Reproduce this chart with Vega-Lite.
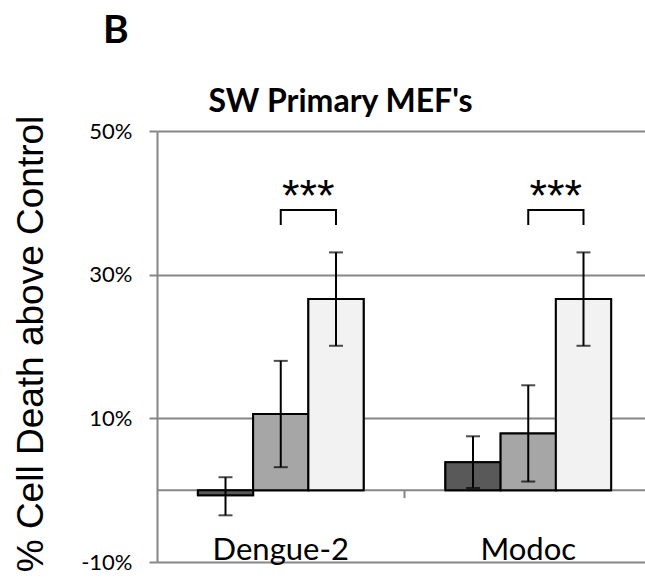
{
  "$schema": "https://vega.github.io/schema/vega-lite/v6.json",
  "autosize": "none",
  "width": 488,
  "height": 431,
  "padding": {"left": 157, "top": 131, "right": 0, "bottom": 16},
  "background": "white",
  "config": {"view": {"stroke": null}},
  "title": {"text": "B", "anchor": "start", "frame": "group", "dx": -54, "font": "Lato", "fontSize": 39, "fontWeight": "bold", "color": "black", "offset": 34},
  "datasets": {
    "bars": [
      {"group": "Dengue-2", "trt": "T1", "value": -0.7, "lo": -3.5, "hi": 1.8},
      {"group": "Dengue-2", "trt": "T2", "value": 10.6, "lo": 3.2, "hi": 18.0},
      {"group": "Dengue-2", "trt": "T3", "value": 26.6, "lo": 20.1, "hi": 33.1},
      {"group": "Modoc", "trt": "T1", "value": 3.9, "lo": 0.3, "hi": 7.5},
      {"group": "Modoc", "trt": "T2", "value": 7.9, "lo": 1.2, "hi": 14.6},
      {"group": "Modoc", "trt": "T3", "value": 26.6, "lo": 20.1, "hi": 33.1}
    ],
    "brackets": [
      {"group": "Dengue-2", "trt": "T2", "y": 36.9, "ord": 1},
      {"group": "Dengue-2", "trt": "T2", "y": 39.0, "ord": 2},
      {"group": "Dengue-2", "trt": "T3", "y": 39.0, "ord": 3},
      {"group": "Dengue-2", "trt": "T3", "y": 36.9, "ord": 4},
      {"group": "Modoc", "trt": "T2", "y": 36.9, "ord": 1},
      {"group": "Modoc", "trt": "T2", "y": 39.0, "ord": 2},
      {"group": "Modoc", "trt": "T3", "y": 39.0, "ord": 3},
      {"group": "Modoc", "trt": "T3", "y": 36.9, "ord": 4}
    ],
    "stars": [
      {"group": "Dengue-2", "label": "***", "y": 40.8},
      {"group": "Modoc", "label": "***", "y": 40.8}
    ],
    "groups": [
      {"group": "Dengue-2", "base": -10},
      {"group": "Modoc", "base": -10}
    ],
    "zero": [{"v": 0}],
    "sep": [{"group": "Modoc", "top": 0, "bot": -1.1}]
  },
  "layer": [
    {
      "data": {"name": "bars"},
      "mark": {"type": "bar", "stroke": "black", "strokeWidth": 2},
      "encoding": {
        "x": {
          "field": "group", "type": "nominal",
          "scale": {"domain": ["Dengue-2", "Modoc"], "range": [0, 495], "paddingInner": 0, "paddingOuter": 0},
          "axis": {"orient": "top", "labels": false, "ticks": false, "domain": false, "grid": false,
                   "title": "SW Primary MEF's", "titleFont": "Lato", "titleFontSize": 32, "titleFontWeight": "bold",
                   "titleColor": "black", "titleX": 183, "titleY": -20, "titleBaseline": "alphabetic", "titleAlign": "center"}
        },
        "xOffset": {"field": "trt", "type": "nominal", "scale": {"domain": ["T1", "T2", "T3"], "paddingInner": 0, "paddingOuter": 0.74}},
        "y": {
          "field": "value", "type": "quantitative",
          "scale": {"domain": [-10, 50], "nice": false, "zero": false},
          "axis": {"values": [-10, 10, 30, 50], "labelExpr": "datum.value + '%'", "grid": true, "gridColor": "#868686", "gridWidth": 2,
                   "domainColor": "#868686", "domainWidth": 2, "tickColor": "#868686", "tickWidth": 2, "tickSize": 8,
                   "labelFont": "Lato", "labelFontSize": 22, "labelColor": "black", "labelPadding": 17,
                   "title": "% Cell Death above Control", "titleFont": "Liberation Sans", "titleFontSize": 37, "titleFontWeight": "normal",
                   "titleColor": "black", "titleX": -115, "titleY": 212.5, "titleAngle": -90, "titleBaseline": "alphabetic", "titleAlign": "center"}
        },
        "fill": {"field": "trt", "type": "nominal", "scale": {"domain": ["T1", "T2", "T3"], "range": ["#595959", "#a6a6a6", "#f2f2f2"]}, "legend": null}
      }
    },
    {
      "data": {"name": "zero"},
      "mark": {"type": "rule", "color": "#868686", "strokeWidth": 2},
      "encoding": {"y": {"field": "v", "type": "quantitative"}}
    },
    {
      "data": {"name": "bars"},
      "mark": {"type": "bar", "stroke": "black", "strokeWidth": 2},
      "encoding": {
        "x": {"field": "group", "type": "nominal"},
        "xOffset": {"field": "trt", "type": "nominal"},
        "y": {"field": "value", "type": "quantitative"},
        "fill": {"field": "trt", "type": "nominal"}
      }
    },
    {
      "data": {"name": "sep"},
      "mark": {"type": "rule", "color": "#868686", "strokeWidth": 2},
      "encoding": {
        "x": {"field": "group", "type": "nominal", "bandPosition": 0},
        "y": {"field": "top", "type": "quantitative"},
        "y2": {"field": "bot"}
      }
    },
    {
      "data": {"name": "bars"},
      "mark": {"type": "rule", "color": "black", "strokeWidth": 2},
      "encoding": {
        "x": {"field": "group", "type": "nominal"},
        "xOffset": {"field": "trt", "type": "nominal"},
        "y": {"field": "lo", "type": "quantitative"},
        "y2": {"field": "hi"}
      }
    },
    {
      "data": {"name": "bars"},
      "mark": {"type": "tick", "color": "black", "thickness": 2, "size": 14},
      "encoding": {
        "x": {"field": "group", "type": "nominal"},
        "xOffset": {"field": "trt", "type": "nominal"},
        "y": {"field": "lo", "type": "quantitative"}
      }
    },
    {
      "data": {"name": "bars"},
      "mark": {"type": "tick", "color": "black", "thickness": 2, "size": 14},
      "encoding": {
        "x": {"field": "group", "type": "nominal"},
        "xOffset": {"field": "trt", "type": "nominal"},
        "y": {"field": "hi", "type": "quantitative"}
      }
    },
    {
      "data": {"name": "brackets"},
      "mark": {"type": "line", "color": "black", "strokeWidth": 2, "strokeJoin": "miter"},
      "encoding": {
        "x": {"field": "group", "type": "nominal"},
        "xOffset": {"field": "trt", "type": "nominal"},
        "y": {"field": "y", "type": "quantitative"},
        "detail": {"field": "group"},
        "order": {"field": "ord", "type": "quantitative"}
      }
    },
    {
      "data": {"name": "stars"},
      "mark": {"type": "text", "font": "Liberation Sans", "fontSize": 45, "color": "black", "baseline": "middle", "align": "center"},
      "encoding": {
        "x": {"field": "group", "type": "nominal", "bandPosition": 0.611},
        "y": {"field": "y", "type": "quantitative"},
        "text": {"field": "label"}
      }
    },
    {
      "data": {"name": "groups"},
      "mark": {"type": "text", "font": "Lato", "fontSize": 31, "color": "black", "baseline": "alphabetic", "align": "center", "dy": -2},
      "encoding": {
        "x": {"field": "group", "type": "nominal"},
        "y": {"field": "base", "type": "quantitative"},
        "text": {"field": "group"}
      }
    }
  ]
}
